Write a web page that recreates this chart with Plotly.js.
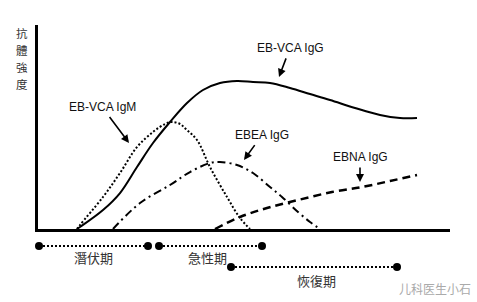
<!DOCTYPE html>
<html>
<head>
<meta charset="utf-8">
<script src="https://cdn.plot.ly/plotly-3.0.1.min.js"></script>
<style>html,body{margin:0;padding:0;background:#fff;}#chart{width:477px;height:302px;}</style>
</head>
<body>
<div id="chart"></div>
<script>
// Antibody curves (arbitrary time units vs. arbitrary titer units)
const vcaIgG_x = [39,42,65,82,99,115,132,149,165,182,199,215,232,252,272,292,317,342,362,379];
const vcaIgG_y = [0,2,19,36,62,86,107,126,139,146,148,147,146,141,135,129,121,114,111,111];

const vcaIgM_x = [39,42,65,82,99,115,127,134,142,149,159,172,189,202,212];
const vcaIgM_y = [0,4,32,56,82,97,105,107,105,99,89,62,32,11,0];

const ebeaIgG_x = [75,102,132,152,172,182,199,215,232,244,260,272,282];
const ebeaIgG_y = [0,26,44,57,66,67,64,56,42,32,17,7,0];

const ebnaIgG_x = [177,202,229,260,294,324,352,379];
const ebnaIgG_y = [0,12,21,29,37,42,48,54];

// Curve labels: text, label position, arrow head position
const curveLabels = ["EB-VCA IgM","EB-VCA IgG","EBEA IgG","EBNA IgG"];
const labelX = [64,252,224,322];
const labelY = [122,181,94,72];
const arrowX = [91,241,206,322];
const arrowY = [86,152,69,47];

// Phases
const phaseNames = ["潛伏期","急性期","恢復期"];
const phaseStart = [1,121,193];
const phaseEnd = [110,224,359];
const phaseLevel = [56,56,35];
const phaseLabelX = [55,169,278];
const phaseLabelY = [45,45,22];

const yTitle = ["抗","體","強","度"];
const watermark = "儿科医生小石";

const traces = [
  {x: vcaIgG_x, y: vcaIgG_y, mode:'lines', line:{color:'#000', width:2, shape:'spline', smoothing:1}},
  {x: vcaIgM_x, y: vcaIgM_y, mode:'lines', line:{color:'#000', width:2, shape:'spline', smoothing:1, dash:'2px,2px'}},
  {x: ebeaIgG_x, y: ebeaIgG_y, mode:'lines', line:{color:'#000', width:2, shape:'spline', smoothing:1, dash:'8px,4px,2px,4px'}},
  {x: ebnaIgG_x, y: ebnaIgG_y, mode:'lines', line:{color:'#000', width:2.5, shape:'spline', smoothing:1, dash:'8px,5px'}}
];
for (let i = 0; i < phaseNames.length; i++) {
  traces.push({
    x: [phaseStart[i], phaseEnd[i]], y: [phaseLevel[i], phaseLevel[i]],
    xaxis:'x', yaxis:'y2', mode:'lines+markers', cliponaxis:false,
    line:{color:'#000', width:2, dash:'2px,2px'},
    marker:{color:'#000', size:8}
  });
}

const annotations = [];
for (let i = 0; i < curveLabels.length; i++) {
  annotations.push({
    xref:'x', yref:'y', x: arrowX[i], y: arrowY[i],
    axref:'x', ayref:'y', ax: labelX[i], ay: labelY[i],
    text: curveLabels[i], showarrow:true, arrowhead:2, arrowsize:1, arrowwidth:1.6,
    arrowcolor:'#000', standoff:0, startstandoff:2,
    font:{family:'Liberation Sans, Arial, sans-serif', size:12, color:'#111'}
  });
}
for (let i = 0; i < phaseNames.length; i++) {
  annotations.push({
    xref:'x', yref:'y2', x: phaseLabelX[i], y: phaseLabelY[i], showarrow:false,
    text: phaseNames[i],
    font:{family:'Noto Sans CJK TC, sans-serif', size:13, color:'#333'}
  });
}
// vertical stacked y-axis title, one character per annotation
const titleY = [0.9711, 0.9097, 0.8484, 0.7870];
for (let i = 0; i < yTitle.length; i++) {
  annotations.push({
    xref:'paper', yref:'paper', x:-0.039, y:titleY[i], xanchor:'center', yanchor:'middle',
    showarrow:false, text: yTitle[i], borderpad:0,
    font:{family:'Noto Sans CJK TC, sans-serif', size:11.5, color:'#333'}
  });
}
annotations.push({
  xref:'x', yref:'y2', x:397, y:14, showarrow:false, text: watermark,
  font:{family:'Noto Sans CJK SC, sans-serif', size:12, color:'#aaa'}
});

const layout = {
  width:477, height:302,
  margin:{l:38, r:27, t:25, b:0},
  paper_bgcolor:'#fff', plot_bgcolor:'#fff',
  showlegend:false,
  xaxis:{range:[0,412], showline:true, linecolor:'#000', linewidth:3, showgrid:false, zeroline:false, showticklabels:false, ticks:'', anchor:'y', fixedrange:true},
  yaxis:{range:[0,204], domain:[0.2635,1], showline:true, linecolor:'#000', linewidth:3, showgrid:false, zeroline:false, showticklabels:false, ticks:'', fixedrange:true},
  yaxis2:{range:[0,73], domain:[0,0.2635], anchor:'x', showline:false, showgrid:false, zeroline:false, showticklabels:false, ticks:'', fixedrange:true},
  annotations: annotations
};

Plotly.newPlot('chart', traces, layout, {displayModeBar:false, staticPlot:true});
</script>
</body>
</html>
